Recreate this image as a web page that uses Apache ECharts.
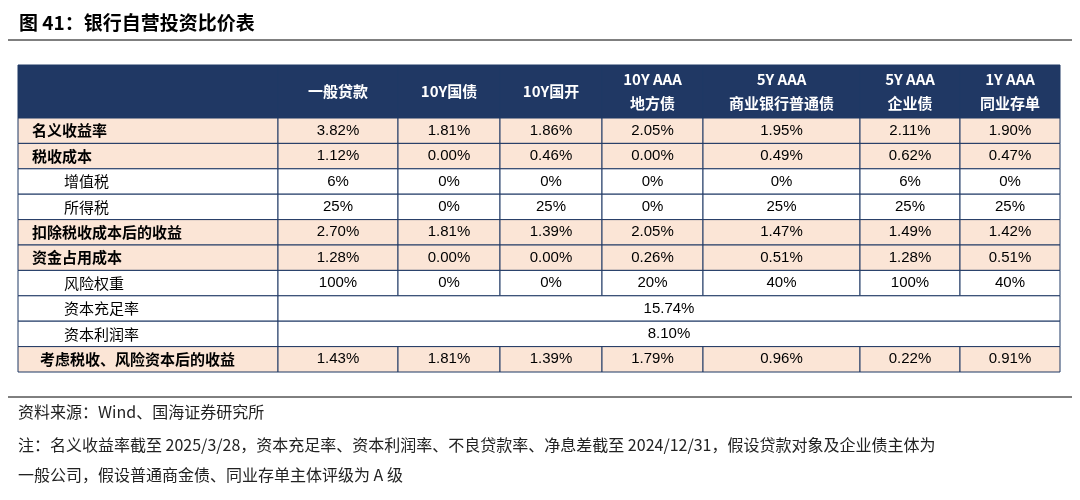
<!DOCTYPE html>
<html><head><meta charset="utf-8">
<script src="https://cdn.jsdelivr.net/npm/echarts@6/dist/echarts.min.js"></script>
<style>body{margin:0}#c{width:1080px;height:500px}</style></head>
<body><div id="c"></div>
<script>
var headers = ['一般贷款', '10Y国债', '10Y国开', '10Y AAA\n地方债', '5Y AAA\n商业银行普通债', '5Y AAA\n企业债', '1Y AAA\n同业存单'];
var rowNames = ['名义收益率', '税收成本', '增值税', '所得税', '扣除税收成本后的收益', '资金占用成本', '风险权重', '资本充足率', '资本利润率', '考虑税收、风险资本后的收益'];
var boldRows = [0, 1, 4, 5, 9];
var values = [
  ['3.82%', '1.81%', '1.86%', '2.05%', '1.95%', '2.11%', '1.90%'],
  ['1.12%', '0.00%', '0.46%', '0.00%', '0.49%', '0.62%', '0.47%'],
  ['6%', '0%', '0%', '0%', '0%', '6%', '0%'],
  ['25%', '0%', '25%', '0%', '25%', '25%', '25%'],
  ['2.70%', '1.81%', '1.39%', '2.05%', '1.47%', '1.49%', '1.42%'],
  ['1.28%', '0.00%', '0.00%', '0.26%', '0.51%', '1.28%', '0.51%'],
  ['100%', '0%', '0%', '20%', '40%', '100%', '40%'],
  ['15.74%'],
  ['8.10%'],
  ['1.43%', '1.81%', '1.39%', '1.79%', '0.96%', '0.22%', '0.91%']
];

// 表格布局（像素坐标系）
var colEdges = [0, 260, 380, 482, 584, 685, 842, 942, 1042];
var headH = 53, rowH = 25.4;
function rowTop(r) { return r < 0 ? 0 : headH + r * rowH; }
function rowBot(r) { return r < 0 ? headH : headH + (r + 1) * rowH; }

// 单元格：[c0, c1, row, text, kind]
var cells = [[0, 1, -1, '', 'head']];
headers.forEach(function (h, i) { cells.push([i + 1, i + 2, -1, h, 'head']); });
rowNames.forEach(function (n, r) {
  var bold = boldRows.indexOf(r) >= 0;
  cells.push([0, 1, r, n, bold ? 'blabel' : 'label']);
  if (values[r].length === 1) cells.push([1, 8, r, values[r][0], 'val']);
  else values[r].forEach(function (v, i) { cells.push([i + 1, i + 2, r, v, bold ? 'bval' : 'val']); });
});

var noteFont = '16px "Noto Sans CJK SC"';
var chart = echarts.init(document.getElementById('c'));
chart.setOption({
  animation: false,
  title: {
    text: '图 41：银行自营投资比价表', left: 14, top: 8,
    textStyle: { fontFamily: 'Noto Sans CJK SC', fontSize: 19, fontWeight: 'bold', color: '#000' }
  },
  grid: { left: 18, right: 20, top: 65, height: headH + rowH * rowNames.length },
  xAxis: { type: 'value', min: 0, max: 1042, show: false },
  yAxis: { type: 'value', min: 0, max: headH + rowH * rowNames.length, inverse: true, show: false },
  graphic: [
    { type: 'line', shape: { x1: 8, y1: 40, x2: 1072, y2: 40 }, style: { stroke: '#000', lineWidth: 1 } },
    { type: 'line', shape: { x1: 8, y1: 397, x2: 1072, y2: 397 }, style: { stroke: '#000', lineWidth: 1 } },
    { type: 'text', left: 18, top: 404, style: { text: '资料来源：Wind、国海证券研究所', font: noteFont, fill: '#222' } },
    { type: 'text', left: 18, top: 437, style: { text: '注：名义收益率截至 2025/3/28，资本充足率、资本利润率、不良贷款率、净息差截至 2024/12/31，假设贷款对象及企业债主体为', font: noteFont, fill: '#222' } },
    { type: 'text', left: 18, top: 467, style: { text: '一般公司，假设普通商金债、同业存单主体评级为 A 级', font: noteFont, fill: '#222' } }
  ],
  series: [{
    type: 'custom',
    data: cells,
    renderItem: function (params, api) {
      var c0 = api.value(0), c1 = api.value(1), r = api.value(2);
      var d = cells[params.dataIndex];
      var p0 = api.coord([colEdges[c0], rowTop(r)]);
      var p1 = api.coord([colEdges[c1], rowBot(r)]);
      var kind = d[4];
      var fill = kind === 'head' ? '#203864' : (boldRows.indexOf(r) >= 0 ? '#fbe5d6' : '#fff');
      var isLabel = kind === 'label' || kind === 'blabel';
      var indent = kind === 'label' ? 46 : (r === 9 ? 22 : 14);
      var tx = isLabel ? p0[0] + indent : (p0[0] + p1[0]) / 2;
      var bold = kind === 'head' || kind === 'blabel';
      var fam = (kind === 'val' || kind === 'bval') ? 'Liberation Sans' : 'Noto Sans CJK SC';
      return {
        type: 'group',
        children: [
          { type: 'rect', shape: { x: p0[0], y: p0[1], width: p1[0] - p0[0], height: p1[1] - p0[1] },
            style: { fill: fill, stroke: '#1f3864', lineWidth: 1 } },
          { type: 'text', style: {
              x: tx, y: (p0[1] + p1[1]) / 2, text: d[3],
              align: isLabel ? 'left' : 'center', verticalAlign: 'middle',
              font: (bold ? 'bold ' : '') + '15px "' + fam + '"', lineHeight: 24,
              fill: kind === 'head' ? '#fff' : '#000' } }
        ]
      };
    }
  }]
});
</script></body></html>
